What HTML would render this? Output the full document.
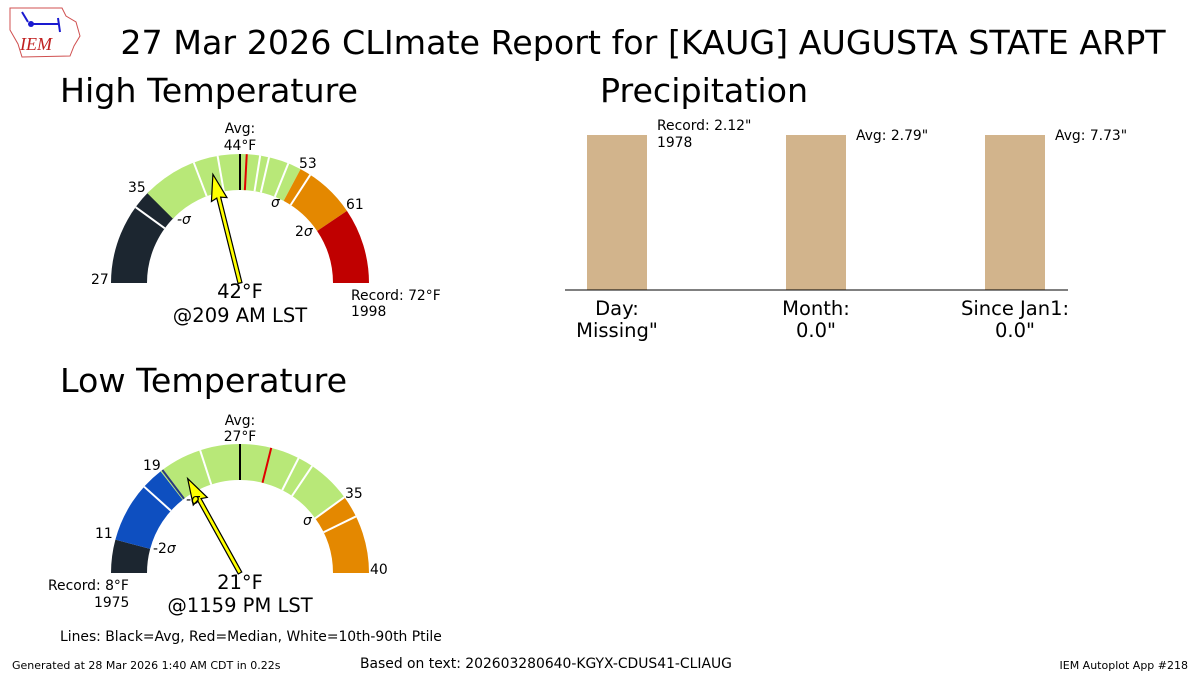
<!DOCTYPE html>
<html><head><meta charset="utf-8"><style>
body{margin:0;background:#fff}
svg{display:block;font-family:"DejaVu Sans","Liberation Sans",sans-serif}
</style></head><body>
<svg id="s" width="1200" height="675" viewBox="0 0 1200 675">
<g id="g"></g>
<!-- logo -->
<path d="M10,8 L62,8 L66,16 L76,22 L80,36 L74,46 L70,56 L22,57 L18,44 L10,30 Z" fill="none" stroke="#d05050" stroke-width="1"/>
<path d="M30,24 L58,24 M58,18 L60,32 M22,12 L28,22" stroke="#1a1ad0" stroke-width="2" fill="none"/>
<circle cx="31" cy="24" r="3" fill="#1a1ad0"/>
<text x="20" y="50" font-family="Liberation Serif" font-style="italic" font-size="18" fill="#c02020">IEM</text>
<text x="643" y="54" font-size="33.3" text-anchor="middle">27 Mar 2026 CLImate Report for [KAUG] AUGUSTA STATE ARPT</text>
<text x="60" y="102" font-size="33.3">High Temperature</text>
<text x="600" y="102" font-size="33.3">Precipitation</text>
<text x="60" y="392" font-size="33.3">Low Temperature</text>
<g font-size="13.9">
<text x="240" y="133" text-anchor="middle">Avg:</text>
<text x="240" y="150" text-anchor="middle">44°F</text>
<text x="128" y="192">35</text><text x="177" y="224" font-style="italic">-σ</text>
<text x="271" y="207" font-style="italic">σ</text><text x="299" y="168">53</text>
<text x="346" y="209">61</text><text x="295" y="236">2<tspan font-style="italic">σ</tspan></text>
<text x="91" y="284">27</text>
<text x="351" y="300">Record: 72°F</text><text x="351" y="316">1998</text>
<text x="240" y="425" text-anchor="middle">Avg:</text>
<text x="240" y="441" text-anchor="middle">27°F</text>
<text x="143" y="470">19</text><text x="186" y="504" font-style="italic">-σ</text>
<text x="95" y="538">11</text><text x="153" y="553">-2<tspan font-style="italic">σ</tspan></text>
<text x="345" y="498">35</text><text x="303" y="525" font-style="italic">σ</text>
<text x="370" y="574">40</text>
<text x="48" y="590">Record: 8°F</text><text x="94" y="607">1975</text>
<text x="657" y="130">Record: 2.12"</text><text x="657" y="147">1978</text>
<text x="856" y="140">Avg: 2.79"</text><text x="1055" y="140">Avg: 7.73"</text>
<text x="60" y="641">Lines: Black=Avg, Red=Median, White=10th-90th Ptile</text>
<text x="360" y="668">Based on text: 202603280640-KGYX-CDUS41-CLIAUG</text>
</g>
<g font-size="19.5" text-anchor="middle">
<text x="240" y="298">42°F</text><text x="240" y="322">@209 AM LST</text>
<text x="240" y="589">21°F</text><text x="240" y="612">@1159 PM LST</text>
<text x="617" y="315">Day:</text><text x="617" y="337">Missing"</text>
<text x="816" y="315">Month:</text><text x="816" y="337">0.0"</text>
<text x="1015" y="315">Since Jan1:</text><text x="1015" y="337">0.0"</text>
</g>
<g font-size="11">
<text x="12" y="669">Generated at 28 Mar 2026 1:40 AM CDT in 0.22s</text>
<text x="1188" y="669" text-anchor="end">IEM Autoplot App #218</text>
</g>
<g fill="#d2b48c"><rect x="587" y="135" width="60" height="155"/><rect x="786" y="135" width="60" height="155"/><rect x="985" y="135" width="60" height="155"/></g>
<line x1="565" y1="290" x2="1068" y2="290" stroke="#000" stroke-width="1"/>
</svg>
<script>
var g=document.getElementById('g'),ns="http://www.w3.org/2000/svg",R=129,r=93,D=Math.PI/180;
function P(cx,cy,rad,a){return [cx+rad*Math.cos(a*D),cy-rad*Math.sin(a*D)];}
function el(t,at){var e=document.createElementNS(ns,t);for(var k in at)e.setAttribute(k,at[k]);g.appendChild(e);}
function seg(cx,cy,a1,a2,c){var p1=P(cx,cy,R,a1),p2=P(cx,cy,R,a2),p3=P(cx,cy,r,a2),p4=P(cx,cy,r,a1);
el('path',{d:'M'+p1+' A'+R+','+R+' 0 0 1 '+p2+' L'+p3+' A'+r+','+r+' 0 0 0 '+p4+'Z',fill:c});}
function ln(cx,cy,a,c,w){var p=P(cx,cy,R,a),q=P(cx,cy,r,a);el('line',{x1:p[0],y1:p[1],x2:q[0],y2:q[1],stroke:c,'stroke-width':w||2});}
function needle(cx,cy,a,L){el('polygon',{points:'0,-2 '+(L-24)+',-2 '+(L-26)+',-8 '+L+',0 '+(L-26)+',8 '+(L-24)+',2 0,2',fill:'#ffff00',stroke:'#000','stroke-width':1.2,transform:'translate('+cx+','+cy+') rotate('+(-a)+')'});}
var cx=240,cy=283;
seg(cx,cy,180,135,'#1c2630');seg(cx,cy,135,62,'#b8e878');seg(cx,cy,62,34,'#e48800');seg(cx,cy,34,0,'#c00000');
[144,111,100,81,77,68,57].forEach(function(a){ln(cx,cy,a,'#fff')});
ln(cx,cy,90,'#000');ln(cx,cy,87,'#e00000');ln(cx,cy,135,'#b8e878',4);
needle(cx,cy,104,112);
cy=573;
seg(cx,cy,180,165,'#1c2630');seg(cx,cy,165,128,'#0e4fc0');seg(cx,cy,128,36,'#b8e878');seg(cx,cy,36,0,'#e48800');
[138,108,63,56,26].forEach(function(a){ln(cx,cy,a,'#fff')});ln(cx,cy,127,'#2a3a80');ln(cx,cy,36,'#fff');
ln(cx,cy,90,'#000');ln(cx,cy,76,'#e00000');
needle(cx,cy,119,108);
</script>
</body></html>
